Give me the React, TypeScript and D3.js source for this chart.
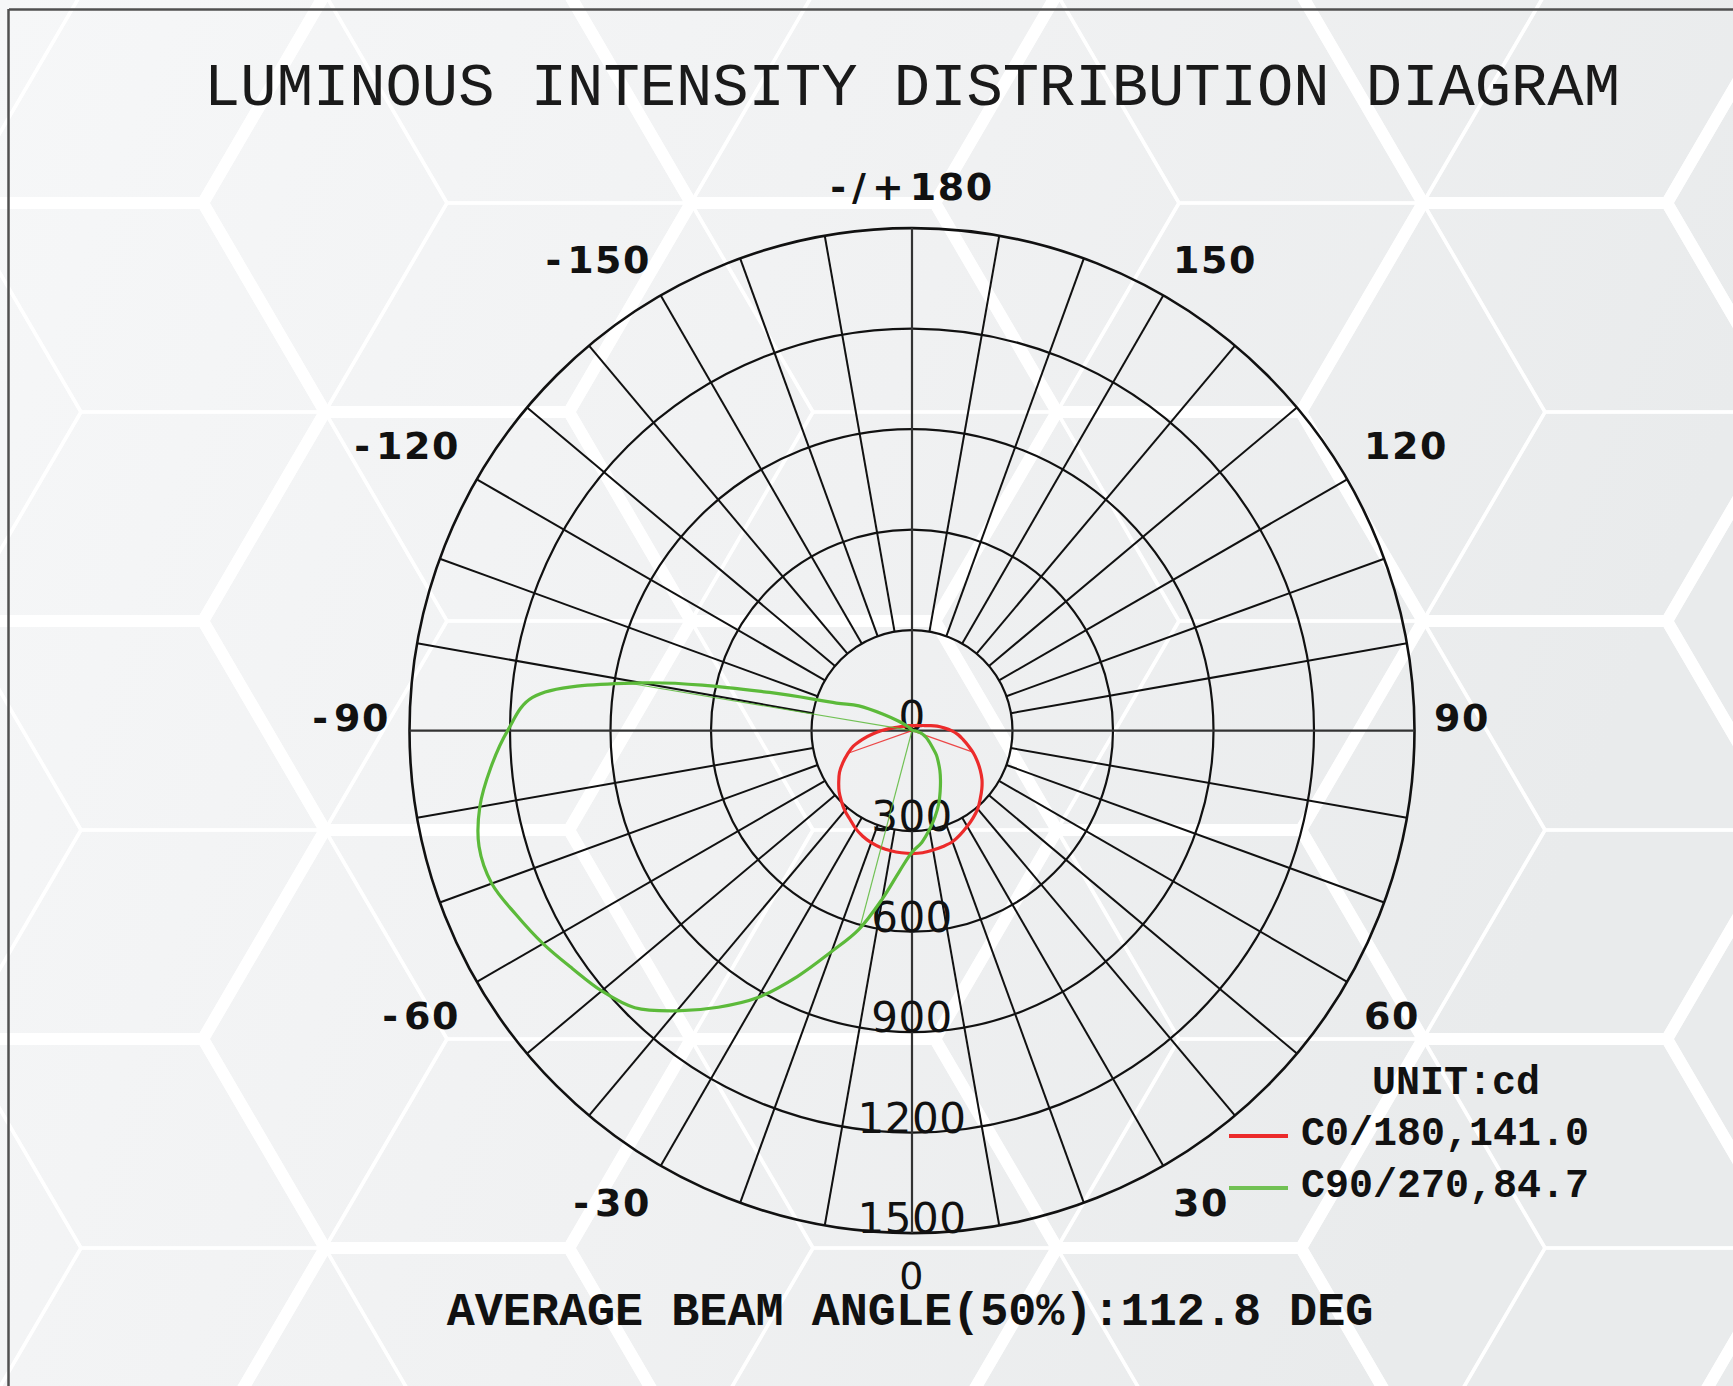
import React from 'react';
import * as d3 from 'd3';

const W = 1733;
const H = 1386;

const TITLE = 'LUMINOUS INTENSITY DISTRIBUTION DIAGRAM';
const FOOTER = 'AVERAGE BEAM ANGLE(50%):112.8 DEG';
const UNIT = 'UNIT:cd';

// gamma angles of the photometric data, 0 = straight down, + = right half
const gammaAngles = d3.range(-180, 180, 5);

// C0/180 plane, cd
const c0Values = [
  15, 15, 15, 15, 16, 16, 17, 18, 19, 20, 21, 23, 26, 30, 35, 42, 52, 68,
  90, 118, 150, 182, 205, 228, 250, 267, 284, 298, 312, 323, 337, 348, 356, 361, 364, 366,
  367, 366, 362, 358, 353, 342, 330, 318, 305, 288, 272, 255, 235, 215, 195, 174, 155, 138,
  118, 95, 76, 58, 44, 36, 30, 26, 23, 21, 20, 18, 17, 16, 16, 15, 15, 15,
];

// C90/270 plane, cd
const c90Values = [
  0, 0, 0, 0, 0, 1, 3, 6, 9, 16, 28, 50, 95, 175, 240, 440, 820, 1137,
  1207, 1262, 1310, 1338, 1335, 1303, 1272, 1238, 1209, 1170, 1092, 1008, 920, 810, 702, 615, 510, 420,
  363, 335, 300, 266, 233, 199, 170, 145, 122, 103, 81, 66, 55, 45, 36, 27, 18, 10,
  5, 2, 0, 0, 0, 0, 0, 0, 0, 0, 0, 0, 0, 0, 0, 0, 0, 0,
];

const seriesNames = ['C0/180', 'C90/270'];
const beamAngles = ['141.0', '84.7'];
// angles where the 50% rays meet each curve
const beamEdges = [[-70.5, 70.5], [-99.5, -14.8]];
const seriesColors = ['#ec2b2b', '#5cba3a'];

const ringTicks = [0, 300, 600, 900, 1200, 1500];
const angleTicks = [180, 150, 120, 90, 60, 30, 0, -30, -60, -90, -120, -150];
const spokeAngles = d3.range(-170, 190, 10);

const cx = 912;
const cy = 730.6;
const R = 502.5;

const rScale = d3.scaleLinear().domain([0, 1500]).range([0, R]);
// d3 radial angle: 0 at top, clockwise; our gamma 0 is at the bottom
const aScale = d3.scaleLinear().domain([-180, 180]).range([2 * Math.PI, 0]);

const toXY = (deg: number, r: number): [number, number] => {
  const t = (deg * Math.PI) / 180;
  return [r * Math.sin(t), r * Math.cos(t)];
};

const valueAt = (vals: number[], deg: number) => {
  const i = Math.floor((deg + 180) / 5);
  const t = (deg - gammaAngles[i]) / 5;
  const a = vals[i];
  const b = vals[(i + 1) % vals.length];
  return a + (b - a) * t;
};

const hexPath = (x: number, y: number, s: number, hh: number) =>
  `M${x - s},${y}L${x - s / 2},${y - hh}L${x + s / 2},${y - hh}L${x + s},${y}L${x + s / 2},${y + hh}L${x - s / 2},${y + hh}Z`;

const hexGrid = (x0: number, y0: number, s: number, hh: number) => {
  const out: string[] = [];
  for (let j = -2; j < 10; j++) {
    for (let i = -2; i < 5; i++) {
      const x = x0 + 3 * s * i + (Math.abs(j) % 2 === 1 ? 1.5 * s : 0);
      out.push(hexPath(x, y0 + hh * j, s, hh));
    }
  }
  return out;
};

const MONO = "'Liberation Mono', 'DejaVu Sans Mono', monospace";
const SANS = "'DejaVu Sans', Verdana, sans-serif";

export default function App() {
  const lineGen = d3
    .lineRadial<[number, number]>()
    .angle((d) => aScale(d[0]))
    .radius((d) => rScale(d[1]))
    .curve(d3.curveCatmullRomClosed.alpha(0.5));

  const allValues = [c0Values, c90Values];

  const thick = hexGrid(447, 203, 244, 209);
  const thin = hexGrid(203, 203, 244, 209);

  const labelNudge: Record<number, number> = { 60: 12, [-60]: 12, 90: -13, [-90]: -13, 120: -13, [-120]: -13 };
  const labelFs = 38;

  // split a label into its sign part and digits, the sign is set wider
  const labelParts = (a: number) => {
    const s = a === 180 ? '-/+180' : String(a);
    const m = s.match(/^([^0-9]*)([0-9]+)$/);
    return m ? [m[1], m[2]] : ['', s];
  };

  return (
    <svg
      width={W}
      height={H}
      style={{ position: 'absolute', left: 0, top: 0, display: 'block' }}
    >
      <defs>
        <linearGradient id="bg" x1="0" y1="0" x2="1" y2="0.3">
          <stop offset="0%" stopColor="#f6f7f8" />
          <stop offset="55%" stopColor="#f0f1f2" />
          <stop offset="100%" stopColor="#e9ebec" />
        </linearGradient>
      </defs>
      <rect width={W} height={H} fill="url(#bg)" />

      {/* hex backdrop */}
      <g fill="none" stroke="#ffffff" strokeLinejoin="round">
        {thin.map((p, i) => (
          <path key={'t' + i} d={p} strokeWidth={3.5} opacity={0.85} />
        ))}
        {thick.map((p, i) => (
          <path key={'k' + i} d={p} strokeWidth={12} opacity={0.9} />
        ))}
      </g>

      {/* frame */}
      <line x1={9} y1={9.5} x2={W} y2={9.5} stroke="#505050" strokeWidth={2.5} />
      <line x1={8.5} y1={9} x2={8.5} y2={H} stroke="#505050" strokeWidth={2.5} />

      <text
        x={912}
        y={105}
        textAnchor="middle"
        fontFamily={MONO}
        fontSize={60.5}
        fill="#1a1a1a"
      >
        {TITLE}
      </text>

      <g transform={`translate(${cx},${cy})`}>
        {/* rings */}
        {ringTicks.slice(1).map((v) => (
          <circle
            key={v}
            r={rScale(v)}
            fill="none"
            stroke="#111"
            strokeWidth={v === 1500 ? 2.6 : 2.2}
          />
        ))}
        {/* spokes */}
        {spokeAngles
          .filter((a) => a % 90 !== 0)
          .map((a) => {
            const [x1, y1] = toXY(a, rScale(300));
            const [x2, y2] = toXY(a, R);
            return <line key={a} x1={x1} y1={y1} x2={x2} y2={y2} stroke="#111" strokeWidth={2} />;
          })}
        {/* axes */}
        <line x1={-R} y1={0} x2={R} y2={0} stroke="#333" strokeWidth={2.2} />
        <line x1={0} y1={-R} x2={0} y2={R} stroke="#333" strokeWidth={2.2} />

        {/* ring labels */}
        {ringTicks.map((v) => (
          <text
            key={'rl' + v}
            x={0}
            y={rScale(v)}
            textAnchor="middle"
            fontFamily={SANS}
            fontSize={42}
            letterSpacing={0.5}
            fill="#111"
          >
            {v}
          </text>
        ))}

        {/* curves */}
        {allValues.map((vals, si) => {
          const pts = gammaAngles.map((a, i) => [a, vals[i]] as [number, number]);
          return (
            <g key={seriesNames[si]}>
              {beamEdges[si].map((a) => {
                const [x, y] = toXY(a, rScale(valueAt(vals, a)));
                return (
                  <line
                    key={a}
                    x1={0}
                    y1={0}
                    x2={x}
                    y2={y}
                    stroke={seriesColors[si]}
                    strokeWidth={1.2}
                    opacity={0.85}
                  />
                );
              })}
              <path
                d={lineGen(pts) || ''}
                fill="none"
                stroke={seriesColors[si]}
                strokeWidth={3.2}
                strokeLinejoin="round"
              />
            </g>
          );
        })}
      </g>

      {/* angle labels */}
      {angleTicks.map((a) => {
        const t = (a * Math.PI) / 180;
        const edge = Math.abs(a) === 180 || a === 0;
        const x = edge ? cx : cx + 522 * Math.sin(t);
        const yc = cy + 544.5 * Math.cos(t) + (labelNudge[a] || 0);
        const [sign, digits] = labelParts(a);
        return (
          <text
            key={'al' + a}
            x={x}
            y={yc + 0.36 * labelFs}
            textAnchor={edge ? 'middle' : a > 0 ? 'start' : 'end'}
            fontFamily={SANS}
            fontWeight={a === 0 ? 'normal' : 'bold'}
            fontSize={labelFs}
            fill="#111"
          >
            {sign && <tspan letterSpacing={a === 180 ? 6 : 6}>{sign}</tspan>}
            <tspan letterSpacing={1.5}>{digits}</tspan>
          </text>
        );
      })}

      {/* legend */}
      <text x={1456} y={1094} textAnchor="middle" fontFamily={MONO} fontWeight="bold" fontSize={40} fill="#111">
        {UNIT}
      </text>
      {seriesNames.map((n, i) => (
        <g key={'lg' + n}>
          <line
            x1={1229}
            x2={1288}
            y1={1136 + i * 52}
            y2={1136 + i * 52}
            stroke={seriesColors[i]}
            strokeWidth={4}
            opacity={i === 1 ? 0.85 : 1}
          />
          <text x={1301} y={1145 + i * 52} fontFamily={MONO} fontWeight="bold" fontSize={40} fill="#111">
            {`${n},${beamAngles[i]}`}
          </text>
        </g>
      ))}

      <text
        x={910}
        y={1325}
        textAnchor="middle"
        fontFamily={MONO}
        fontWeight="bold"
        fontSize={46.8}
        fill="#111"
      >
        {FOOTER}
      </text>
    </svg>
  );
}
